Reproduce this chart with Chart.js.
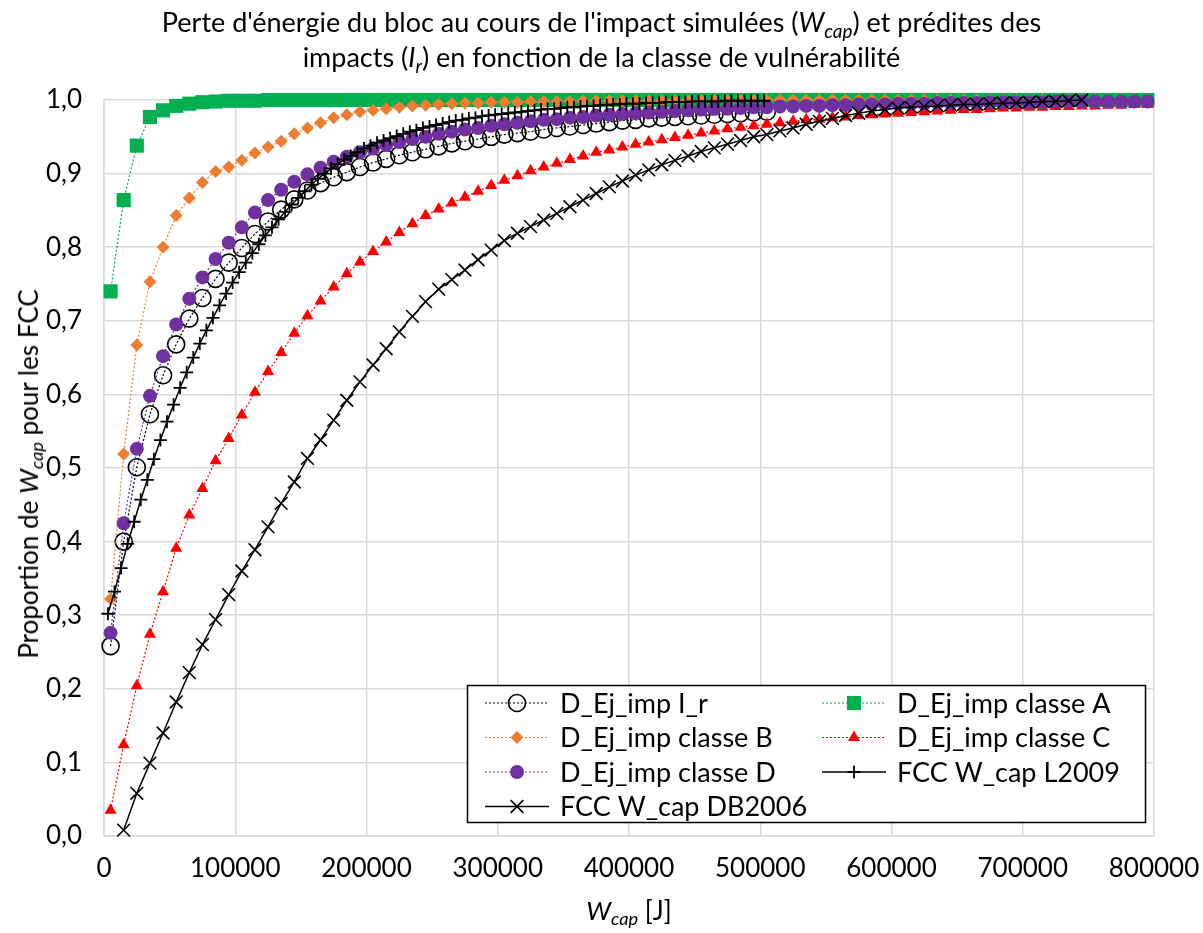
<!DOCTYPE html>
<html>
<head>
<meta charset="utf-8">
<script src="https://cdn.jsdelivr.net/npm/chart.js@4.4.0/dist/chart.umd.min.js"></script>
<style>
  body { margin: 0; background: #fff; font-family: Lato, sans-serif; color: #000; }
  #wrap { position: relative; width: 1203px; height: 933px; }
  #chart { position: absolute; left: 0; top: 0; }
  .title { position: absolute; left: 0; top: 4px; width: 1203px; text-align: center; font-size: 27px; line-height: 35px; }
  .xtitle { position: absolute; left: 104px; width: 1050px; top: 894px; text-align: center; font-size: 26px; }
  .ytitle { position: absolute; left: 28px; top: 474px; transform: translate(-50%, -50%) rotate(-90deg); white-space: nowrap; font-size: 26px; }
  sub { font-size: 70%; line-height: 0; vertical-align: -0.3em; }
</style>
</head>
<body>
<div id="wrap">
  <canvas id="chart" width="1203" height="933"></canvas>
  <div class="title">Perte d'énergie du bloc au cours de l'impact simulées (<i>W<sub>cap</sub></i>) et prédites des<br>impacts (<i>I<sub>r</sub></i>) en fonction de la classe de vulnérabilité</div>
  <div class="ytitle">Proportion de <i>W<sub>cap</sub></i> pour les FCC</div>
  <div class="xtitle"><i>W<sub>cap</sub></i> [J]</div>
</div>
<script>
// grille des énergies (J) pour les séries D_Ej_imp
const wGrid = [
  5000, 15000, 25000, 35000, 45000, 55000, 65000, 75000, 85000, 95000,
  105000, 115000, 125000, 135000, 145000, 155000, 165000, 175000, 185000, 195000,
  205000, 215000, 225000, 235000, 245000, 255000, 265000, 275000, 285000, 295000,
  305000, 315000, 325000, 335000, 345000, 355000, 365000, 375000, 385000, 395000,
  405000, 415000, 425000, 435000, 445000, 455000, 465000, 475000, 485000, 495000,
  505000, 515000, 525000, 535000, 545000, 555000, 565000, 575000, 585000, 595000,
  605000, 615000, 625000, 635000, 645000, 655000, 665000, 675000, 685000, 695000,
  705000, 715000, 725000, 735000, 745000, 755000, 765000, 775000, 785000, 795000
];

// D_Ej_imp I_r (5000 -> 505000)
const impIr = [
  0.258, 0.400, 0.501, 0.573, 0.626, 0.668, 0.703, 0.731, 0.757, 0.779,
  0.799, 0.818, 0.835, 0.851, 0.865, 0.877, 0.887, 0.895, 0.902, 0.909,
  0.915, 0.920, 0.925, 0.929, 0.933, 0.937, 0.941, 0.944, 0.947, 0.950,
  0.953, 0.955, 0.957, 0.960, 0.962, 0.964, 0.966, 0.968, 0.970, 0.972,
  0.973, 0.975, 0.976, 0.977, 0.978, 0.979, 0.980, 0.981, 0.982, 0.983,
  0.984
];

const classeA = [
  0.740, 0.864, 0.938, 0.977, 0.986, 0.992, 0.995, 0.997, 0.998, 0.999,
  0.999, 0.999, 1.000, 1.000, 1.000, 1.000, 1.000, 1.000, 1.000, 1.000,
  1.000, 1.000, 1.000, 1.000, 1.000, 1.000, 1.000, 1.000, 1.000, 1.000,
  1.000, 1.000, 1.000, 1.000, 1.000, 1.000, 1.000, 1.000, 1.000, 1.000,
  1.000, 1.000, 1.000, 1.000, 1.000, 1.000, 1.000, 1.000, 1.000, 1.000,
  1.000, 1.000, 1.000, 1.000, 1.000, 1.000, 1.000, 1.000, 1.000, 1.000,
  1.000, 1.000, 1.000, 1.000, 1.000, 1.000, 1.000, 1.000, 1.000, 1.000,
  1.000, 1.000, 1.000, 1.000, 1.000, 1.000, 1.000, 1.000, 1.000, 1.000
];

const classeB = [
  0.322, 0.519, 0.667, 0.753, 0.800, 0.843, 0.867, 0.888, 0.903, 0.909,
  0.918, 0.928, 0.936, 0.944, 0.954, 0.962, 0.969, 0.976, 0.980, 0.984,
  0.986, 0.988, 0.990, 0.992, 0.993, 0.994, 0.995, 0.996, 0.996, 0.997,
  0.997, 0.997, 0.998, 0.998, 0.998, 0.998, 0.999, 0.999, 0.999, 0.999,
  0.999, 0.999, 0.999, 0.999, 0.999, 0.999, 0.999, 0.999, 0.999, 0.999,
  1.000, 1.000, 1.000, 1.000, 1.000, 1.000, 1.000, 1.000, 1.000, 1.000,
  1.000, 1.000, 1.000, 1.000, 1.000, 1.000, 1.000, 1.000, 1.000, 1.000,
  1.000, 1.000, 1.000, 1.000, 1.000, 1.000, 1.000, 1.000, 1.000, 1.000
];

const classeC = [
  0.035, 0.124, 0.204, 0.274, 0.332, 0.391, 0.436, 0.472, 0.510, 0.540,
  0.572, 0.603, 0.631, 0.657, 0.683, 0.707, 0.727, 0.746, 0.764, 0.780,
  0.794, 0.807, 0.820, 0.832, 0.843, 0.852, 0.860, 0.868, 0.876, 0.884,
  0.891, 0.897, 0.904, 0.909, 0.914, 0.919, 0.924, 0.929, 0.932, 0.936,
  0.940, 0.943, 0.946, 0.949, 0.952, 0.955, 0.958, 0.961, 0.963, 0.965,
  0.967, 0.969, 0.971, 0.973, 0.974, 0.976, 0.977, 0.979, 0.980, 0.981,
  0.982, 0.983, 0.984, 0.985, 0.986, 0.987, 0.987, 0.988, 0.989, 0.989,
  0.990, 0.990, 0.991, 0.991, 0.992, 0.992, 0.993, 0.993, 0.994, 0.994
];

const classeD = [
  0.276, 0.425, 0.526, 0.598, 0.652, 0.695, 0.730, 0.759, 0.784, 0.806,
  0.827, 0.847, 0.864, 0.878, 0.889, 0.899, 0.908, 0.916, 0.923, 0.929,
  0.934, 0.939, 0.943, 0.947, 0.950, 0.954, 0.957, 0.960, 0.962, 0.965,
  0.967, 0.969, 0.971, 0.973, 0.974, 0.976, 0.977, 0.979, 0.980, 0.981,
  0.982, 0.983, 0.984, 0.985, 0.986, 0.987, 0.988, 0.988, 0.989, 0.990,
  0.990, 0.991, 0.991, 0.992, 0.992, 0.993, 0.993, 0.994, 0.994, 0.994,
  0.995, 0.995, 0.995, 0.996, 0.996, 0.996, 0.996, 0.997, 0.997, 0.997,
  0.997, 0.997, 0.998, 0.998, 0.998, 0.998, 0.998, 0.998, 0.998, 0.998
];

// FCC W_cap L2009 : pas de 5000 J
const wL2009 = [
  3000, 8000, 13000, 18000, 23000, 28000, 33000, 38000, 43000, 48000,
  53000, 58000, 63000, 68000, 73000, 78000, 83000, 88000, 93000, 98000,
  103000, 108000, 113000, 118000, 123000, 128000, 133000, 138000, 143000, 148000,
  153000, 158000, 163000, 168000, 173000, 178000, 183000, 188000, 193000, 198000,
  203000, 208000, 213000, 218000, 223000, 228000, 233000, 238000, 243000, 248000,
  253000, 258000, 263000, 268000, 273000, 278000, 283000, 288000, 293000, 298000,
  303000, 308000, 313000, 318000, 323000, 328000, 333000, 338000, 343000, 348000,
  353000, 358000, 363000, 368000, 373000, 378000, 383000, 388000, 393000, 398000,
  403000, 408000, 413000, 418000, 423000, 428000, 433000, 438000, 443000, 448000,
  453000, 458000, 463000, 468000, 473000, 478000, 483000, 488000, 493000, 498000,
  503000
];
const fccL2009 = [
  0.302, 0.332, 0.364, 0.397, 0.427, 0.457, 0.484, 0.512, 0.538, 0.563,
  0.586, 0.609, 0.630, 0.650, 0.669, 0.687, 0.704, 0.721, 0.737, 0.752,
  0.766, 0.779, 0.792, 0.804, 0.816, 0.827, 0.838, 0.848, 0.858, 0.867,
  0.876, 0.885, 0.893, 0.900, 0.907, 0.913, 0.919, 0.924, 0.929, 0.934,
  0.938, 0.942, 0.945, 0.948, 0.951, 0.954, 0.957, 0.959, 0.962, 0.964,
  0.966, 0.968, 0.970, 0.972, 0.973, 0.975, 0.976, 0.978, 0.979, 0.980,
  0.981, 0.982, 0.983, 0.984, 0.985, 0.986, 0.987, 0.988, 0.988, 0.989,
  0.990, 0.990, 0.991, 0.992, 0.992, 0.993, 0.993, 0.994, 0.994, 0.995,
  0.995, 0.995, 0.996, 0.996, 0.996, 0.997, 0.997, 0.997, 0.997, 0.998,
  0.998, 0.998, 0.998, 0.998, 0.999, 0.999, 0.999, 0.999, 0.999, 0.999,
  0.999
];

// FCC W_cap DB2006 (15000 -> 745000)
const fccDB2006 = [
  0.008, 0.058, 0.099, 0.140, 0.182, 0.222, 0.260, 0.294, 0.328,
  0.360, 0.389, 0.420, 0.452, 0.481, 0.513, 0.538, 0.565, 0.592, 0.617,
  0.640, 0.662, 0.685, 0.706, 0.726, 0.743, 0.756, 0.769, 0.783, 0.796,
  0.809, 0.819, 0.828, 0.837, 0.846, 0.855, 0.864, 0.873, 0.882, 0.890,
  0.898, 0.905, 0.912, 0.918, 0.924, 0.930, 0.935, 0.940, 0.945, 0.950,
  0.953, 0.958, 0.962, 0.967, 0.971, 0.975, 0.979, 0.982, 0.985, 0.987,
  0.989, 0.990, 0.991, 0.992, 0.993, 0.994, 0.994, 0.995, 0.996, 0.996,
  0.997, 0.998, 0.998, 0.999, 1.000
];

const xTicks = [0, 100000, 200000, 300000, 400000, 500000, 600000, 700000, 800000];
const yTicks = [0, 0.1, 0.2, 0.3, 0.4, 0.5, 0.6, 0.7, 0.8, 0.9, 1.0];

function pts(xs, ys) {
  return ys.map((y, i) => ({ x: xs[i], y: y }));
}

const dotted = [2, 2];
const datasets = [
  { label: 'D_Ej_imp I_r', data: pts(wGrid, impIr), borderColor: '#000000', borderDash: dotted, borderWidth: 1.2,
    pointStyle: 'circle', pointRadius: 8.5, pointBackgroundColor: 'rgba(0,0,0,0)', pointBorderColor: '#000000', pointBorderWidth: 1.6 },
  { label: 'D_Ej_imp classe A', data: pts(wGrid, classeA), borderColor: '#00b050', borderDash: dotted, borderWidth: 1.2,
    pointStyle: 'rect', pointRadius: 10, pointBackgroundColor: '#00b050', pointBorderColor: '#00b050', pointBorderWidth: 0 },
  { label: 'D_Ej_imp classe B', data: pts(wGrid, classeB), borderColor: '#ed7d31', borderDash: dotted, borderWidth: 1.2,
    pointStyle: 'rectRot', pointRadius: 6.5, pointBackgroundColor: '#ed7d31', pointBorderColor: '#ed7d31', pointBorderWidth: 0 },
  { label: 'D_Ej_imp classe C', data: pts(wGrid, classeC), borderColor: '#ff0000', borderDash: dotted, borderWidth: 1.2,
    pointStyle: 'triangle', pointRadius: 7, pointBackgroundColor: '#ff0000', pointBorderColor: '#ff0000', pointBorderWidth: 0 },
  { label: 'D_Ej_imp classe D', data: pts(wGrid, classeD), borderColor: '#7030a0', borderDash: dotted, borderWidth: 1.2,
    pointStyle: 'circle', pointRadius: 7, pointBackgroundColor: '#7030a0', pointBorderColor: '#7030a0', pointBorderWidth: 0 },
  { label: 'FCC W_cap L2009', data: pts(wL2009, fccL2009), borderColor: '#000000', borderWidth: 1.5,
    pointStyle: 'cross', pointRadius: 6.5, pointBorderColor: '#000000', pointBorderWidth: 1.8 },
  { label: 'FCC W_cap DB2006', data: pts(wGrid.slice(1), fccDB2006), borderColor: '#000000', borderWidth: 1.5,
    pointStyle: 'crossRot', pointRadius: 9, pointBorderColor: '#000000', pointBorderWidth: 1.6 }
];
// Excel : la dernière série est dessinée au-dessus
datasets.forEach((d, i) => { d.order = datasets.length - i; d.fill = false; d.tension = 0; d.clip = false; });

const legendBox = {
  id: 'legendBox',
  afterDraw(chart) {
    const ctx = chart.ctx;
    const box = { x: 467, y: 685, w: 678, h: 137 };
    ctx.save();
    ctx.fillStyle = '#ffffff';
    ctx.fillRect(box.x, box.y, box.w, box.h);
    ctx.strokeStyle = '#000000';
    ctx.lineWidth = 1.5;
    ctx.strokeRect(box.x + 0.5, box.y + 0.5, box.w, box.h);
    ctx.font = '27px Lato';
    ctx.textBaseline = 'middle';
    chart.data.datasets.forEach((ds, i) => {
      const col = i % 2, row = Math.floor(i / 2);
      const lx = col ? 822 : 485;
      const cy = box.y + 18 + row * 34.5;
      ctx.setLineDash(ds.borderDash || []);
      ctx.strokeStyle = ds.borderColor;
      ctx.lineWidth = ds.borderWidth;
      ctx.beginPath();
      ctx.moveTo(lx, cy);
      ctx.lineTo(lx + 64, cy);
      ctx.stroke();
      ctx.setLineDash([]);
      ctx.fillStyle = ds.pointBackgroundColor || 'rgba(0,0,0,0)';
      ctx.strokeStyle = ds.pointBorderColor;
      ctx.lineWidth = ds.pointBorderWidth;
      Chart.helpers.drawPoint(ctx, { pointStyle: ds.pointStyle, radius: ds.pointRadius, rotation: 0, borderWidth: ds.pointBorderWidth }, lx + 32, cy);
      ctx.fillStyle = '#000000';
      ctx.fillText(ds.label, lx + 75, cy + 1);
    });
    ctx.restore();
  }
};

new Chart(document.getElementById('chart'), {
  type: 'line',
  data: { datasets: datasets },
  plugins: [legendBox],
  options: {
    responsive: false,
    animation: false,
    devicePixelRatio: 1,
    layout: { padding: { top: 100, right: 49, left: 0, bottom: 0 } },
    plugins: { legend: { display: false }, tooltip: { enabled: false }, title: { display: false } },
    scales: {
      x: {
        type: 'linear', min: 0, max: 800000,
        afterBuildTicks: s => { s.ticks = xTicks.map(v => ({ value: v })); },
        afterFit: s => { s.height = 97; s.paddingLeft = 0; s.paddingRight = 0; },
        ticks: { color: '#000', font: { family: 'Lato', size: 26 }, padding: 17, callback: v => String(v) },
        grid: { color: '#d9d9d9', lineWidth: 1.5, drawTicks: false },
        border: { color: '#d9d9d9', width: 1.5 }
      },
      y: {
        type: 'linear', min: 0, max: 1,
        afterBuildTicks: s => { s.ticks = yTicks.map(v => ({ value: v })); },
        afterFit: s => { s.width = 104; s.paddingTop = 0; s.paddingBottom = 0; },
        ticks: { color: '#000', font: { family: 'Lato', size: 26 }, padding: 22, callback: v => v.toFixed(1).replace('.', ',') },
        grid: { color: '#d9d9d9', lineWidth: 1.5, drawTicks: false },
        border: { color: '#d9d9d9', width: 1.5 }
      }
    }
  }
});
</script>
</body>
</html>
